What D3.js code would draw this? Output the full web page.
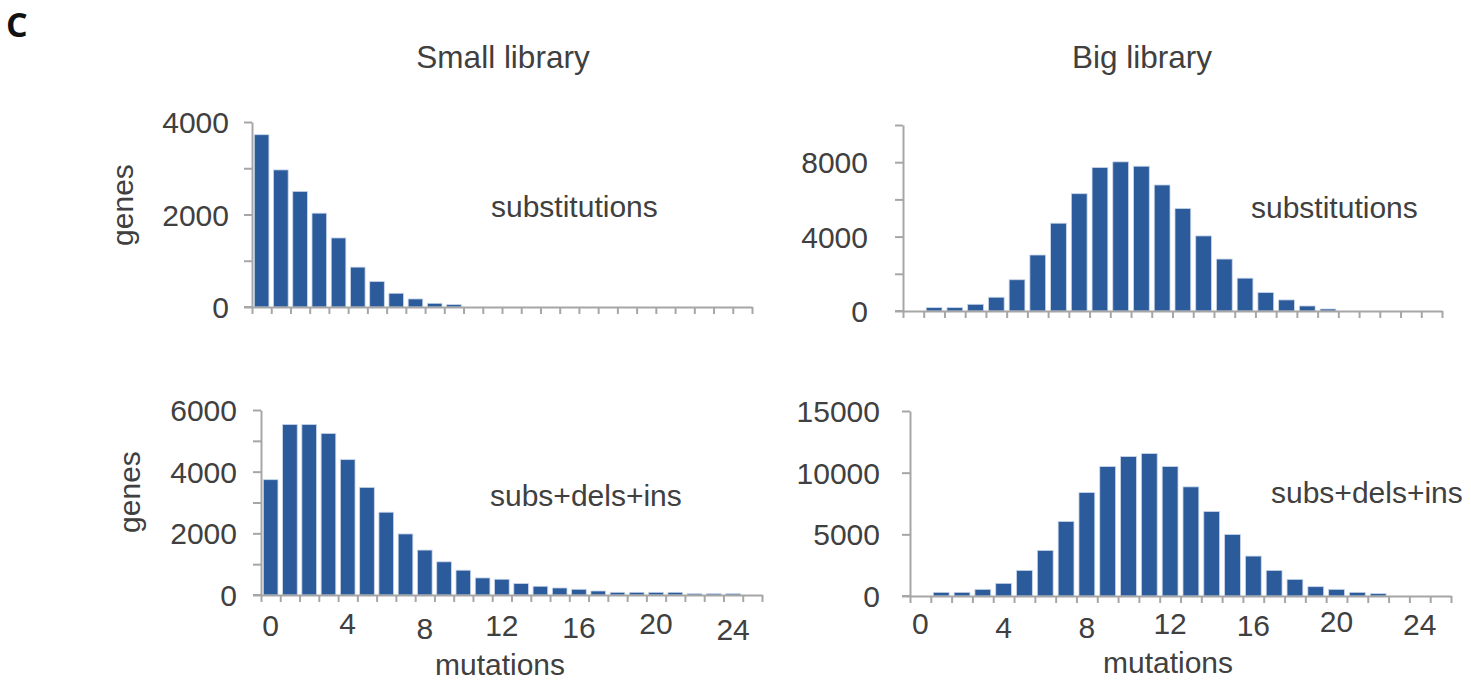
<!DOCTYPE html>
<html><head><meta charset="utf-8">
<script src="https://cdn.jsdelivr.net/npm/d3@7"></script>
<style>html,body{margin:0;padding:0;background:#fff;} svg{display:block;}</style>
</head><body>
<svg id="chart" width="1471" height="683"></svg>
<script>
// ---------- data ----------
const mutations = [0,1,2,3,4,5,6,7,8,9,10,11,12,13,14,15,16,17,18,19,20,21,22,23,24,25];
const xTickLabels = [0,4,8,12,16,20,24];

const smallSubstitutions = [3725,2964,2500,2029,1493,862,551,297,174,80,51,0,0,0,0,0,0,0,0,0,0,0,0,0,0,0];
const smallAll = [3740,5530,5530,5240,4390,3490,2685,1980,1457,1076,804,554,511,370,283,228,185,130,87,87,87,87,43,43,43,0];
const bigSubstitutions = [0,180,180,360,740,1680,3010,4720,6306,7712,8018,7784,6775,5514,4036,2793,1766,991,595,270,108,0,0,0,0,0];
const bigAll = [0,297,297,540,1025,2077,3696,6043,8390,10494,11303,11546,10494,8848,6852,4990,3237,2077,1349,755,540,297,189,0,0,0];

const smallSubsTicks = [0,1000,2000,3000,4000];
const smallSubsLabels = [0,2000,4000];
const smallAllTicks = [0,1000,2000,3000,4000,5000,6000];
const smallAllLabels = [0,2000,4000,6000];
const bigSubsTicks = [0,2000,4000,6000,8000,10000];
const bigSubsLabels = [0,4000,8000];
const bigAllTicks = [0,5000,10000,15000];
const bigAllLabels = [0,5000,10000,15000];

const columnTitles = ["Small library","Big library"];
const rowNotes = ["substitutions","subs+dels+ins"];

// ---------- style ----------
const FONT = "'Liberation Sans', Arial, sans-serif";
const TEXT = "#404040";
const AXIS = "#a6a6a6";
const BAR = "#2b5b9b";
const BAR_EDGE = "#c9d6ea";
const FS = 30;

const svg = d3.select("#chart");

svg.append("text").attr("x", 6).attr("y", 37)
  .attr("font-family", "'Open Sans', 'Liberation Sans', sans-serif").attr("font-weight", "bold").attr("font-size", 34)
  .attr("fill", "#111").text("C");

function panel(cfg) {
  const g = svg.append("g");
  const x = d3.scaleBand().domain(mutations).range([cfg.left, cfg.right])
    .paddingInner(0.24).paddingOuter(0.12);
  const xEdge = d3.scaleLinear().domain([0, mutations.length]).range([cfg.left, cfg.right]);
  const y = d3.scaleLinear().domain([0, cfg.max]).range([cfg.bottom, cfg.top]);

  // bars
  g.selectAll("rect.bar")
    .data(cfg.values.map((v, i) => ({ m: mutations[i], v })).filter(d => d.v > 0))
    .join("rect")
    .attr("class", "bar")
    .attr("x", d => x(d.m))
    .attr("width", x.bandwidth())
    .attr("y", d => y(d.v))
    .attr("height", d => y(0) - y(d.v))
    .attr("fill", BAR)
    .attr("stroke", BAR_EDGE)
    .attr("stroke-width", 0.8);

  // x axis (ticks at category boundaries)
  const xa = g.append("g").attr("transform", `translate(0,${cfg.bottom})`)
    .call(d3.axisBottom(xEdge).tickValues(d3.range(mutations.length + 1))
      .tickSize(7).tickSizeOuter(0).tickFormat(""));
  xa.selectAll("path,line").attr("stroke", AXIS).attr("stroke-width", 2);

  // y axis
  const ya = g.append("g").attr("transform", `translate(${cfg.left},0)`)
    .call(d3.axisLeft(y).tickValues(cfg.ticks).tickSize(8).tickSizeOuter(0)
      .tickPadding(cfg.pad)
      .tickFormat(d => cfg.labels.includes(d) ? String(d) : ""));
  ya.selectAll("path,line").attr("stroke", AXIS).attr("stroke-width", 2);
  ya.selectAll("text").attr("font-family", FONT).attr("font-size", FS).attr("fill", TEXT)
    .attr("dy", "0.35em");
  g.append("line").attr("x1", cfg.left - 8).attr("x2", cfg.left)
    .attr("y1", cfg.bottom).attr("y2", cfg.bottom).attr("stroke", AXIS).attr("stroke-width", 2);

  // x tick labels
  if (cfg.xlabels) {
    g.selectAll("text.xl").data(xTickLabels).join("text")
      .attr("class", "xl")
      .attr("x", d => x(d) + x.bandwidth() / 2)
      .attr("y", (d, i) => cfg.xLabelY + cfg.nudge[i])
      .attr("dy", "0.35em")
      .attr("text-anchor", "middle")
      .attr("font-family", FONT).attr("font-size", FS).attr("fill", TEXT)
      .text(d => d);
    g.append("text").attr("x", cfg.xTitleX).attr("y", cfg.xTitleY)
      .attr("text-anchor", "middle")
      .attr("font-family", FONT).attr("font-size", FS).attr("fill", TEXT)
      .text("mutations");
  }

  if (cfg.yTitle) {
    g.append("text")
      .attr("transform", `translate(${cfg.yTitleX},${cfg.yTitleY}) rotate(-90)`)
      .attr("text-anchor", "middle")
      .attr("font-family", FONT).attr("font-size", FS).attr("fill", TEXT)
      .text("genes");
  }

  g.append("text").attr("x", cfg.noteX).attr("y", cfg.noteY)
    .attr("font-family", FONT).attr("font-size", FS).attr("fill", TEXT)
    .text(cfg.note);
}

svg.append("text").attr("x", 503).attr("y", 68).attr("text-anchor", "middle")
  .attr("font-family", FONT).attr("font-size", 31.5).attr("fill", TEXT).text(columnTitles[0]);
svg.append("text").attr("x", 1142).attr("y", 68).attr("text-anchor", "middle")
  .attr("font-family", FONT).attr("font-size", 31.5).attr("fill", TEXT).text(columnTitles[1]);

panel({ values: smallSubstitutions, left: 252, right: 752, top: 122, bottom: 307,
  max: 4000, ticks: smallSubsTicks, labels: smallSubsLabels, pad: 15,
  yTitle: true, yTitleX: 133, yTitleY: 205,
  note: rowNotes[0], noteX: 491, noteY: 217 });

panel({ values: bigSubstitutions, left: 903, right: 1442, top: 125, bottom: 311,
  max: 10000, ticks: bigSubsTicks, labels: bigSubsLabels, pad: 27,
  note: rowNotes[0], noteX: 1251, noteY: 218 });

panel({ values: smallAll, left: 261, right: 762, top: 410, bottom: 595,
  max: 6000, ticks: smallAllTicks, labels: smallAllLabels, pad: 16,
  yTitle: true, yTitleX: 140, yTitleY: 492,
  xlabels: true, xLabelY: 625, nudge: [0,-2,3,0,2,-2,4], xTitleX: 500, xTitleY: 675,
  note: rowNotes[1], noteX: 490, noteY: 506 });

panel({ values: bigAll, left: 910, right: 1451, top: 411, bottom: 596,
  max: 15000, ticks: bigAllTicks, labels: bigAllLabels, pad: 22,
  xlabels: true, xLabelY: 624, nudge: [-1,3,3,-1,1,-3,0], xTitleX: 1168, xTitleY: 673,
  note: rowNotes[1], noteX: 1271, noteY: 503 });
</script>
</body></html>
